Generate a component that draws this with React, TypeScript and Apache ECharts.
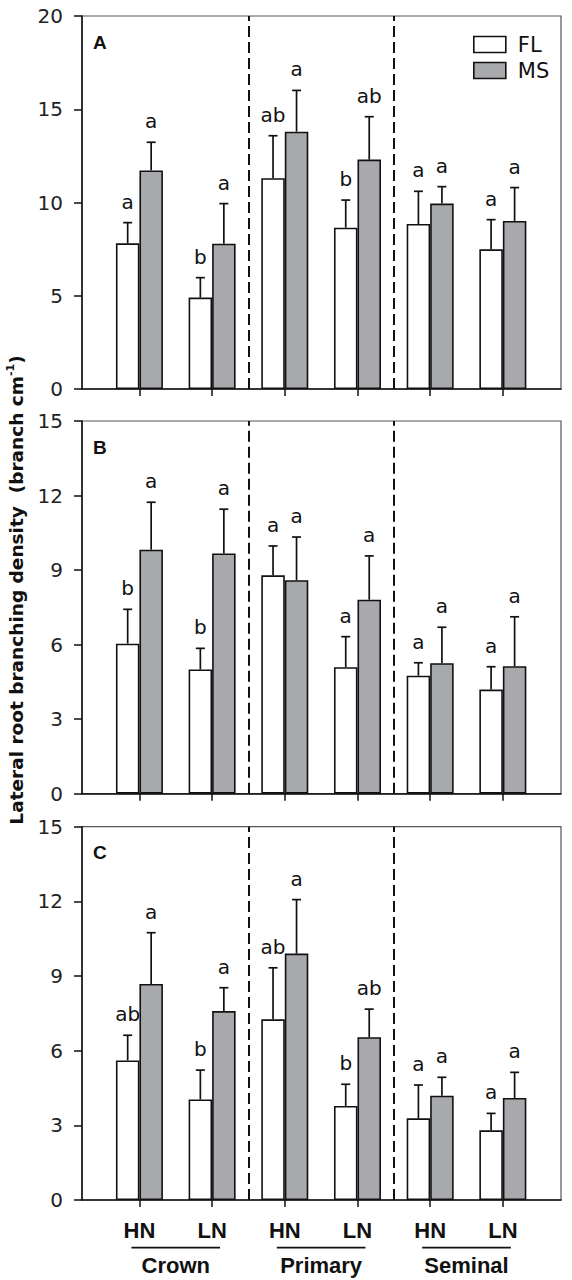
import React, { useEffect, useRef } from 'react';
import * as echarts from 'echarts';

// ---------- data ----------
const groups = ['Crown', 'Primary', 'Seminal'];
const groupCenters = [1.5, 3.5, 5.5];
const nLevels = ['HN', 'LN', 'HN', 'LN', 'HN', 'LN'];
const positions = [1, 2, 3, 4, 5, 6];
const seriesNames = ['FL', 'MS'];
const panelLabels = ['A', 'B', 'C'];
const yMax = [20, 15, 15];
const yInterval = [5, 3, 3];

// Panel A
const flA = [7.81, 4.9, 11.3, 8.65, 8.85, 7.49];
const flAErr = [1.11, 1.07, 2.28, 1.48, 1.75, 1.59];
const msA = [11.72, 7.79, 13.8, 12.3, 9.94, 9.01];
const msAErr = [1.51, 2.15, 2.21, 2.3, 0.91, 1.79];
const flALetters = ['a', 'b', 'ab', 'b', 'a', 'a'];
const msALetters = ['a', 'a', 'a', 'ab', 'a', 'a'];

// Panel B
const flB = [6.04, 5.0, 8.79, 5.09, 4.75, 4.19];
const flBErr = [1.38, 0.85, 1.18, 1.23, 0.52, 0.92];
const msB = [9.82, 9.67, 8.59, 7.81, 5.25, 5.13];
const msBErr = [1.91, 1.78, 1.74, 1.76, 1.45, 1.99];
const flBLetters = ['b', 'b', 'a', 'a', 'a', 'a'];
const msBLetters = ['a', 'a', 'a', 'a', 'a', 'a'];

// Panel C
const flC = [5.61, 4.04, 7.26, 3.78, 3.28, 2.8];
const flCErr = [1.01, 1.18, 2.07, 0.87, 1.34, 0.68];
const msC = [8.68, 7.59, 9.9, 6.54, 4.19, 4.1];
const msCErr = [2.06, 0.94, 2.17, 1.13, 0.74, 1.03];
const flCLetters = ['ab', 'b', 'ab', 'b', 'a', 'a'];
const msCLetters = ['a', 'a', 'a', 'ab', 'a', 'a'];

const dividers = [2.5, 4.5];

const panels = [
  { fl: flA, flErr: flAErr, ms: msA, msErr: msAErr, flL: flALetters, msL: msALetters },
  { fl: flB, flErr: flBErr, ms: msB, msErr: msBErr, flL: flBLetters, msL: msBLetters },
  { fl: flC, flErr: flCErr, ms: msC, msErr: msCErr, flL: flCLetters, msL: msCLetters },
];

// ---------- layout / style ----------
const GRID_LEFT = 82;
const GRID_WIDTH = 479;
const gridTops = [16, 421, 826.7];
const gridHeights = [373, 372.7, 373.3];
const BAR_W = 23.5;
const X_MIN = 0.21;
const X_MAX = 6.8;
const FL_COLOR = '#ffffff';
const MS_COLOR = '#a8a9ac';
const INK = '#111111';
const FONT = 'DejaVu Sans';
const BOLD_FONT = 'Liberation Sans';

export default function App() {
  const ref = useRef<HTMLDivElement>(null);

  useEffect(() => {
    document.body.style.margin = '0';
    if (!ref.current) return;
    const chart = echarts.init(ref.current, undefined, { renderer: 'svg' });

    const grid = gridTops.map((t, i) => ({
      left: GRID_LEFT,
      width: GRID_WIDTH,
      top: t,
      height: gridHeights[i],
      show: true,
      borderColor: '#555',
      borderWidth: 1.2,
      backgroundColor: 'transparent',
    }));

    const xAxis: any[] = gridTops.map((_, i) => ({
      type: 'value',
      gridIndex: i,
      min: X_MIN,
      max: X_MAX,
      splitLine: { show: false },
      axisLine: { show: true, lineStyle: { color: INK, width: 1.5 } },
      axisTick: {
        show: true,
        customValues: positions,
        length: 7,
        inside: false,
        lineStyle: { color: INK, width: 1.5 },
      },
      axisLabel: {
        show: i === 2,
        customValues: positions,
        formatter: (v: number) => nLevels[positions.indexOf(Math.round(v))] ?? '',
        margin: 19,
        fontFamily: BOLD_FONT,
        fontWeight: 'bold',
        fontSize: 22,
        color: INK,
      },
    }));
    xAxis.push({
      type: 'value',
      gridIndex: 2,
      min: X_MIN,
      max: X_MAX,
      position: 'bottom',
      splitLine: { show: false },
      axisLine: { show: false },
      axisTick: { show: false },
      axisLabel: {
        show: true,
        customValues: groupCenters,
        formatter: (v: number) => groups[groupCenters.indexOf(v)] ?? '',
        margin: 54,
        fontFamily: BOLD_FONT,
        fontWeight: 'bold',
        fontSize: 22,
        color: INK,
      },
    });

    const yAxis = gridTops.map((_, i) => ({
      type: 'value',
      gridIndex: i,
      min: 0,
      max: yMax[i],
      interval: yInterval[i],
      splitLine: { show: false },
      axisLine: { show: true, lineStyle: { color: INK, width: 1.5 } },
      axisTick: { show: true, length: 8, inside: false, lineStyle: { color: INK, width: 1.5 } },
      axisLabel: { margin: 19, fontFamily: FONT, fontSize: 20, color: '#222' },
    }));

    const series: any[] = [];
    panels.forEach((p, i) => {
      const defs = [
        { name: seriesNames[0], vals: p.fl, errs: p.flErr, letters: p.flL, color: FL_COLOR, off: -BAR_W / 2 },
        { name: seriesNames[1], vals: p.ms, errs: p.msErr, letters: p.msL, color: MS_COLOR, off: BAR_W / 2 },
      ];
      defs.forEach((d) => {
        series.push({
          type: 'bar',
          name: d.name,
          xAxisIndex: i,
          yAxisIndex: i,
          barWidth: BAR_W,
          barGap: '0%',
          data: d.vals.map((v, j) => [positions[j], v]),
          itemStyle: { color: d.color, borderColor: INK, borderWidth: 1.6 },
          z: 3,
        });
      });
      defs.forEach((d, k) => {
        series.push({
          type: 'custom',
          name: d.name + ' err',
          xAxisIndex: i,
          yAxisIndex: i,
          clip: false,
          z: 5,
          encode: { x: 0, y: 1 },
          data: d.vals.map((v, j) => [positions[j], v, d.errs[j]]),
          markLine:
            k === 0
              ? {
                  silent: true,
                  symbol: 'none',
                  label: { show: false },
                  lineStyle: { color: INK, type: [11, 5], width: 2 },
                  data: dividers.map((x) => ({ xAxis: x })),
                }
              : undefined,
          renderItem: (params: any, api: any) => {
            const x = api.value(0);
            const v = api.value(1);
            const e = api.value(2);
            const base = api.coord([x, v]);
            const top = api.coord([x, v + e]);
            const cx = base[0] + d.off;
            const ls = { stroke: INK, lineWidth: 1.7 };
            return {
              type: 'group',
              children: [
                { type: 'line', shape: { x1: cx, y1: base[1], x2: cx, y2: top[1] }, style: ls },
                { type: 'line', shape: { x1: cx - 4.5, y1: top[1], x2: cx + 4.5, y2: top[1] }, style: ls },
                {
                  type: 'text',
                  style: {
                    text: d.letters[params.dataIndex],
                    x: cx,
                    y: top[1] - 11,
                    align: 'center',
                    verticalAlign: 'bottom',
                    fontFamily: FONT,
                    fontSize: 20,
                    fill: INK,
                  },
                },
              ],
            };
          },
        });
      });
    });

    const graphic: any[] = [
      {
        type: 'text',
        x: 16,
        y: 590,
        rotation: Math.PI / 2,
        style: {
          text: '{b|Lateral root branching density  (branch cm}{s|-1}{b|)}',
          align: 'center',
          verticalAlign: 'middle',
          rich: {
            b: { fontFamily: 'DejaVu Sans', fontWeight: 'bold', fontSize: 18.5, lineHeight: 22, fill: INK },
            s: { fontFamily: 'DejaVu Sans', fontWeight: 'bold', fontSize: 11, lineHeight: 22, verticalAlign: 'top', fill: INK },
          },
        },
      },
      ...panelLabels.map((lab, i) => ({
        type: 'text',
        x: 93,
        y: gridTops[i] + 26,
        style: {
          text: lab,
          align: 'left',
          verticalAlign: 'middle',
          fontFamily: BOLD_FONT,
          fontWeight: 'bold',
          fontSize: 19,
          fill: INK,
        },
      })),
    ];

    chart.setOption({
      animation: false,
      backgroundColor: '#ffffff',
      grid,
      xAxis,
      yAxis,
      legend: {
        show: true,
        data: seriesNames,
        orient: 'vertical',
        left: 468,
        top: 29,
        icon: 'rect',
        itemWidth: 32,
        itemHeight: 16,
        itemGap: 5,
        itemStyle: { borderColor: INK, borderWidth: 1.6 },
        textStyle: { fontFamily: FONT, fontSize: 21, color: INK, padding: [0, 0, 0, 7] },
        selectedMode: false,
      },
      series,
      graphic,
    });

    // underlines under group labels, placed through the bottom x axis scale
    const underY = gridTops[2] + gridHeights[2] + 47.7;
    const lines = groupCenters.map((c) => {
      const x1 = chart.convertToPixel({ xAxisIndex: 2 }, c - 0.61) as number;
      const x2 = chart.convertToPixel({ xAxisIndex: 2 }, c + 0.61) as number;
      return {
        type: 'line',
        shape: { x1, y1: underY, x2, y2: underY },
        style: { stroke: INK, lineWidth: 1.8 },
      };
    });
    chart.setOption({ graphic: [...graphic, ...lines] });

    return () => chart.dispose();
  }, []);

  return <div ref={ref} style={{ width: 572, height: 1280 }} />;
}
